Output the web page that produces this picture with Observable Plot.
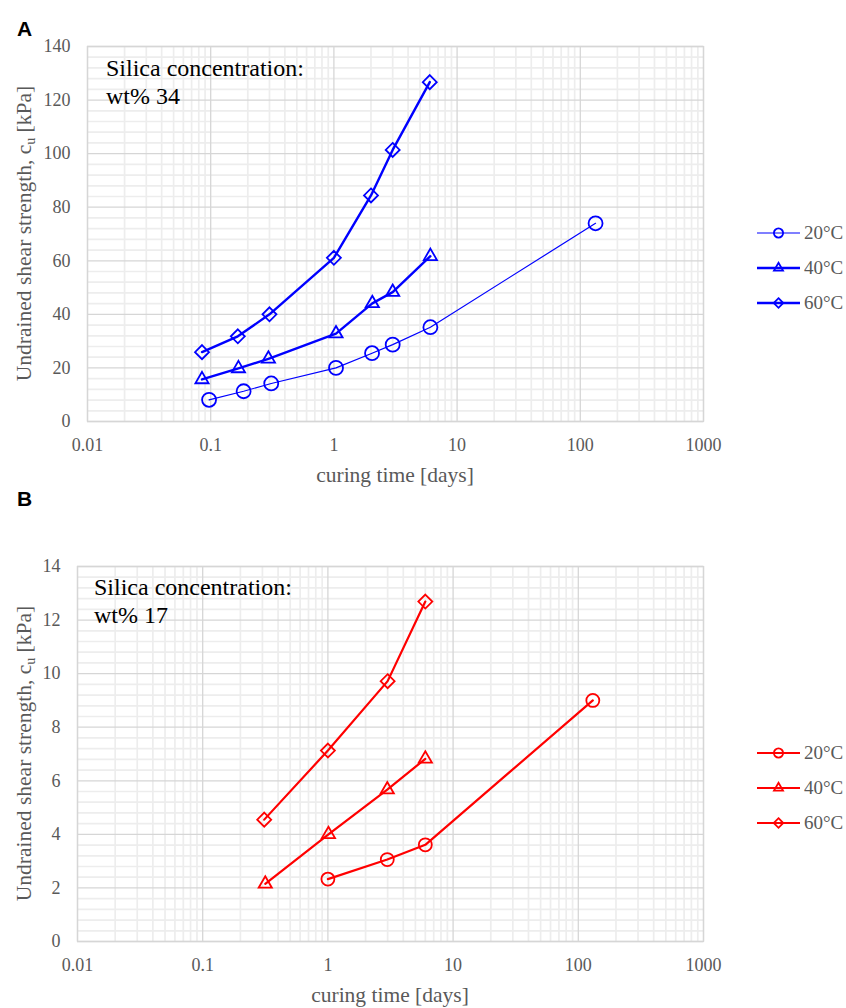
<!DOCTYPE html>
<html><head><meta charset="utf-8">
<script src="https://cdn.jsdelivr.net/npm/d3@7"></script>
<script src="https://cdn.jsdelivr.net/npm/@observablehq/plot@0.6"></script>
<style>
body{margin:0;background:#fff;}
#wrap{position:relative;width:846px;height:1008px;overflow:hidden;font-family:"Liberation Serif","Times New Roman",serif;}
.panel{position:absolute;left:0;}
.plabel{position:absolute;left:17px;font-family:"Liberation Sans",Arial,sans-serif;font-weight:bold;font-size:21px;line-height:1;color:#000;}
</style></head><body><div id="wrap"></div>
<script>
// ---------- data ----------
const temps = ["20°C", "40°C", "60°C"];
const symbols = ["circle", "triangle2", "diamond2"];

// Panel A: silica wt% 34 (curing time [days], cu [kPa])
const a20_t  = [0.097, 0.185, 0.31, 1.04, 2.04, 3.0, 6.07, 133];
const a20_cu = [8.1, 11.3, 14.2, 20.0, 25.5, 28.7, 35.2, 74.0];
const a40_t  = [0.085, 0.168, 0.294, 1.04, 2.05, 3.0, 6.07];
const a40_cu = [15.7, 19.8, 23.4, 32.8, 44.1, 48.3, 61.7];
const a60_t  = [0.085, 0.166, 0.30, 1.0, 2.0, 3.0, 6.0];
const a60_cu = [25.9, 31.8, 40.0, 61.1, 84.4, 101.4, 126.7];

// Panel B: silica wt% 17
const b20_t  = [1.0, 2.98, 6.0, 130.6];
const b20_cu = [2.33, 3.06, 3.61, 9.0];
const b40_t  = [0.316, 1.01, 2.98, 6.0];
const b40_cu = [2.15, 4.0, 5.67, 6.82];
const b60_t  = [0.31, 1.0, 3.0, 6.0];
const b60_cu = [4.55, 7.13, 9.72, 12.69];

const xTicks = [0.01, 0.1, 1, 10, 100, 1000];
const xTickLabels = ["0.01", "0.1", "1", "10", "100", "1000"];
const yTicksA = [0, 20, 40, 60, 80, 100, 120, 140];
const yTicksB = [0, 2, 4, 6, 8, 10, 12, 14];
const notesA = ["Silica concentration:", "wt% 34"];
const notesB = ["Silica concentration:", "wt% 17"];
const xTitle = "curing time [days]";

// ---------- drawing ----------
const wrap = document.getElementById("wrap");
const GRAY = "#595959";
const MAJOR = "#d6d6d6";
const MINOR = "#ededed";
const SERIF = '"Liberation Serif","Times New Roman",serif';

function makePanel(cfg) {
  const xMinor = [];
  for (const d of xTicks.slice(0, -1)) for (let m = 2; m <= 9; m++) xMinor.push(+(d * m).toPrecision(3));
  const yMax = cfg.yTicks[cfg.yTicks.length - 1];
  const yStep = cfg.yTicks[1] - cfg.yTicks[0];
  const yMinor = [];
  for (let v = 0; v <= yMax + 1e-9; v += yStep / 5) {
    const r = +v.toFixed(4);
    if (!cfg.yTicks.includes(r)) yMinor.push(r);
  }
  const marks = [
    Plot.ruleX(xMinor, {stroke: MINOR, strokeWidth: 1.7}),
    Plot.ruleY(yMinor, {stroke: MINOR, strokeWidth: 1.7}),
    Plot.ruleX(xTicks, {stroke: MAJOR, strokeWidth: 1.3}),
    Plot.ruleY(cfg.yTicks, {stroke: MAJOR, strokeWidth: 1.3}),
    Plot.frame({stroke: MAJOR, strokeWidth: 1.3}),
    Plot.axisX(xTicks, {tickSize: 0, tickPadding: 17, tickFormat: d => xTickLabels[xTicks.indexOf(d)], label: null, fontSize: 18, fill: GRAY}),
    Plot.axisY(cfg.yTicks, {tickSize: 0, tickPadding: 17, label: null, fontSize: 18, fill: GRAY})
  ];
  cfg.series.forEach((s, i) => {
    const data = s.t.map((t, j) => ({t, cu: s.cu[j]}));
    marks.push(Plot.line(data, {x: "t", y: "cu", stroke: cfg.color, strokeWidth: s.w}));
    marks.push(Plot.dot(data, {x: "t", y: "cu", symbol: symbols[i], r: s.r, stroke: cfg.color, strokeWidth: 1.8, fill: "none"}));
  });
  const chart = Plot.plot({
    width: 846, height: cfg.height,
    marginLeft: cfg.mL, marginRight: 143, marginTop: cfg.mT, marginBottom: cfg.mB,
    x: {type: "log", domain: [0.01, 1000]},
    y: {domain: [0, yMax]},
    style: {fontFamily: SERIF, background: "white", color: GRAY, overflow: "visible"},
    marks
  });
  chart.classList.add("panel");
  chart.style.top = cfg.top + "px";
  wrap.appendChild(chart);

  const svg = d3.select(chart);
  const px0 = cfg.mL, px1 = 846 - 143, py0 = cfg.mT, py1 = cfg.height - cfg.mB;
  // note
  const note = svg.append("text").style("font-size", "24px").style("fill", "#000")
    .style("font-family", SERIF).style("text-anchor", "start");
  cfg.notes.forEach((n, k) => note.append("tspan").attr("x", px0 + cfg.noteDx).attr("y", py0 + cfg.noteDy + k * 27.5).text(n));
  // x title
  svg.append("text").attr("x", (px0 + px1) / 2).attr("y", py1 + 61).style("text-anchor", "middle")
    .style("font-size", "21.5px").style("font-family", SERIF).style("fill", GRAY).text(xTitle);
  // y title
  const yt = svg.append("text").attr("transform", `translate(30.5,${(py0 + py1) / 2}) rotate(-90)`)
    .style("text-anchor", "middle").style("font-size", "21.5px").style("font-family", SERIF).style("fill", GRAY);
  yt.append("tspan").text("Undrained shear strength, c");
  yt.append("tspan").style("font-size", "14px").attr("dy", 4).text("u");
  yt.append("tspan").attr("dy", -4).text(" [kPa]");
  // legend
  const lg = svg.append("g");
  const symTypes = [d3.symbolCircle, d3.symbolTriangle2, d3.symbolDiamond2];
  const symSizes = [Math.PI * 4.6 * 4.6, Math.PI * 4.3 * 4.3, Math.PI * 4.3 * 4.3];
  temps.forEach((t, i) => {
    const y = cfg.legendY + i * 35;
    lg.append("line").attr("x1", 757).attr("x2", 800).attr("y1", y).attr("y2", y)
      .attr("stroke", cfg.color).attr("stroke-width", cfg.series[i].w);
    lg.append("path").attr("d", d3.symbol(symTypes[i], symSizes[i])())
      .attr("transform", `translate(778.5,${y})`).attr("fill", "none")
      .attr("stroke", cfg.color).attr("stroke-width", 1.8);
    lg.append("text").attr("x", 804).attr("y", y).attr("dy", "0.34em")
      .style("text-anchor", "start").style("font-size", "19px").style("font-family", SERIF)
      .style("fill", GRAY).text(t);
  });
}

makePanel({
  top: 0, height: 490, mL: 87, mT: 46, mB: 69, color: "#0000ff",
  yTicks: yTicksA, notes: notesA, noteDx: 19, noteDy: 30, legendY: 233,
  series: [
    {t: a20_t, cu: a20_cu, w: 1.2, r: 7},
    {t: a40_t, cu: a40_cu, w: 2.4, r: 6.3},
    {t: a60_t, cu: a60_cu, w: 2.4, r: 6.3}
  ]
});
makePanel({
  top: 490, height: 518, mL: 77, mT: 76, mB: 67, color: "#ff0000",
  yTicks: yTicksB, notes: notesB, noteDx: 17, noteDy: 29, legendY: 263,
  series: [
    {t: b20_t, cu: b20_cu, w: 2.2, r: 6.5},
    {t: b40_t, cu: b40_cu, w: 2.2, r: 6.3},
    {t: b60_t, cu: b60_cu, w: 2.2, r: 6.3}
  ]
});

const la = document.createElement("div"); la.className = "plabel"; la.style.top = "18px"; la.textContent = "A"; wrap.appendChild(la);
const lb = document.createElement("div"); lb.className = "plabel"; lb.style.top = "488px"; lb.textContent = "B"; wrap.appendChild(lb);
</script>
</body></html>
